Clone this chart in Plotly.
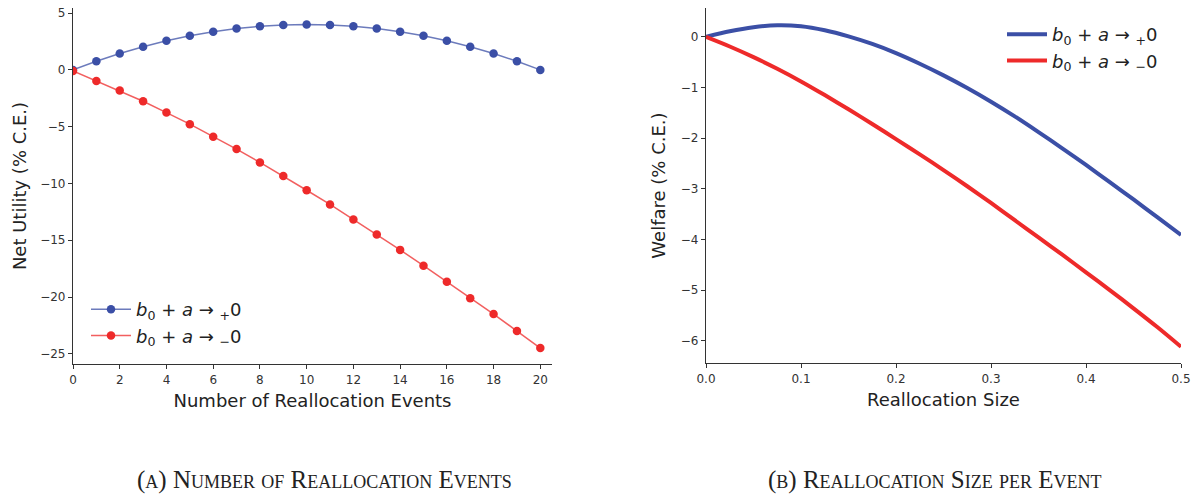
import plotly.graph_objects as go

# Panel A: net utility by number of reallocation events
events = list(range(21))
net_pos = [0.0, 0.76, 1.44, 2.04, 2.56, 3.0, 3.36, 3.64, 3.84, 3.96, 4.0,
           3.96, 3.84, 3.64, 3.36, 3.0, 2.56, 2.04, 1.44, 0.76, 0.0]
net_neg = [-0.1, -0.97, -1.82, -2.76, -3.76, -4.78, -5.88, -6.97, -8.15, -9.35, -10.6,
           -11.85, -13.18, -14.5, -15.85, -17.24, -18.65, -20.1, -21.5, -23.0, -24.5]

# Panel B: welfare by reallocation size
sizes = [0.0, 0.025, 0.05, 0.075, 0.1, 0.125, 0.15, 0.175, 0.2, 0.225, 0.25,
         0.275, 0.3, 0.325, 0.35, 0.375, 0.4, 0.425, 0.45, 0.475, 0.5]
welf_pos = [0.0, 0.11, 0.19, 0.23, 0.21, 0.13, 0.01, -0.14, -0.32, -0.53, -0.76,
            -1.01, -1.28, -1.57, -1.88, -2.2, -2.53, -2.87, -3.21, -3.56, -3.91]
welf_neg = [0.0, -0.19, -0.4, -0.63, -0.88, -1.15, -1.43, -1.72, -2.02, -2.32, -2.63,
            -2.95, -3.28, -3.62, -3.96, -4.3, -4.65, -5.0, -5.36, -5.73, -6.12]

label_pos = "<i>b</i><sub>0</sub> + <i>a</i> → <sub>+</sub>0"
label_neg = "<i>b</i><sub>0</sub> + <i>a</i> → <sub>−</sub>0"

BLUE = "#3B4FA6"
RED = "#EE2A2A"
BLUE_LINE = "rgba(59,79,166,0.75)"
RED_LINE = "rgba(238,42,42,0.75)"
FONT = "DejaVu Sans"
W, H = 1197, 495

fig = go.Figure()

fig.add_trace(go.Scatter(
    x=events, y=net_pos, mode="lines+markers", name=label_pos,
    line=dict(color=BLUE_LINE, width=1.5), marker=dict(color=BLUE, size=8.5),
    xaxis="x", yaxis="y", legend="legend"))
fig.add_trace(go.Scatter(
    x=events, y=net_neg, mode="lines+markers", name=label_neg,
    line=dict(color=RED_LINE, width=1.5), marker=dict(color=RED, size=8.5),
    xaxis="x", yaxis="y", legend="legend"))

fig.add_trace(go.Scatter(
    x=sizes, y=welf_pos, mode="lines", name=label_pos,
    line=dict(color=BLUE, width=4, shape="spline", smoothing=0.8),
    xaxis="x2", yaxis="y2", legend="legend2"))
fig.add_trace(go.Scatter(
    x=sizes, y=welf_neg, mode="lines", name=label_neg,
    line=dict(color=RED, width=4, shape="spline", smoothing=0.8),
    xaxis="x2", yaxis="y2", legend="legend2"))

def px_x(p):
    return p / W

def px_y(p):
    return 1 - p / H

axis_common = dict(
    showline=True, linecolor="#333333", linewidth=1.2, mirror=False,
    showgrid=False, zeroline=False, ticks="outside", ticklen=4, tickwidth=1.2,
    tickcolor="#333333", tickfont=dict(family=FONT, size=12, color="#333333"),
    automargin=False,
)
title_font = dict(family=FONT, size=18, color="#222222")

fig.update_layout(
    width=W, height=H,
    margin=dict(l=0, r=0, t=0, b=0),
    paper_bgcolor="white", plot_bgcolor="white",
    font=dict(family=FONT),
    xaxis=dict(domain=[px_x(73), px_x(552)], range=[0, 20.5],
               tickmode="array", tickvals=list(range(0, 21, 2)),
               title=dict(text="Number of Reallocation Events", font=title_font, standoff=8),
               anchor="y", **axis_common),
    yaxis=dict(domain=[px_y(364), px_y(8)], range=[-25.9, 5.45],
               tickmode="array", tickvals=[5, 0, -5, -10, -15, -20, -25],
               title=dict(text="Net Utility (% C.E.)", font=title_font, standoff=8),
               anchor="x", **axis_common),
    xaxis2=dict(domain=[px_x(706), px_x(1181)], range=[0, 0.5],
                tickmode="array", tickvals=[0, 0.1, 0.2, 0.3, 0.4, 0.5], tickformat=".1f",
                title=dict(text="Reallocation Size", font=title_font, standoff=8),
                anchor="y2", **axis_common),
    yaxis2=dict(domain=[px_y(363), px_y(8)], range=[-6.44, 0.57],
                tickmode="array", tickvals=[0, -1, -2, -3, -4, -5, -6],
                title=dict(text="Welfare (% C.E.)", font=title_font, standoff=10),
                anchor="x2", **axis_common),
    legend=dict(x=px_x(86), y=px_y(291), xanchor="left", yanchor="top",
                bgcolor="rgba(0,0,0,0)", itemwidth=40,
                font=dict(family=FONT, size=18, color="#222222")),
    legend2=dict(x=px_x(1002), y=px_y(16), xanchor="left", yanchor="top",
                 bgcolor="rgba(0,0,0,0)", itemwidth=40,
                 font=dict(family=FONT, size=18, color="#222222")),
    showlegend=True,
)

SMALL = 18

def small_caps(letter_groups):
    parts = []
    for big, small in letter_groups:
        parts.append(big)
        if small:
            parts.append(f"<span style='font-size:{SMALL}px'>{small.upper()}</span>")
    return "".join(parts)

cap_a = ("(" + f"<span style='font-size:{SMALL}px'>A</span>" + ") "
         + small_caps([("N", "umber"), (" ", "of"), (" R", "eallocation"), (" E", "vents")]))
cap_b = ("(" + f"<span style='font-size:{SMALL}px'>B</span>" + ") "
         + small_caps([("R", "eallocation"), (" S", "ize"), (" ", "per"), (" E", "vent")]))

for txt, xc in [(cap_a, 324), (cap_b, 935)]:
    fig.add_annotation(text=txt, x=px_x(xc), y=px_y(480), xref="paper", yref="paper",
                       xanchor="center", yanchor="middle", showarrow=False,
                       font=dict(family="Liberation Serif", size=25, color="#222222"))

fig.write_html("out.html")
